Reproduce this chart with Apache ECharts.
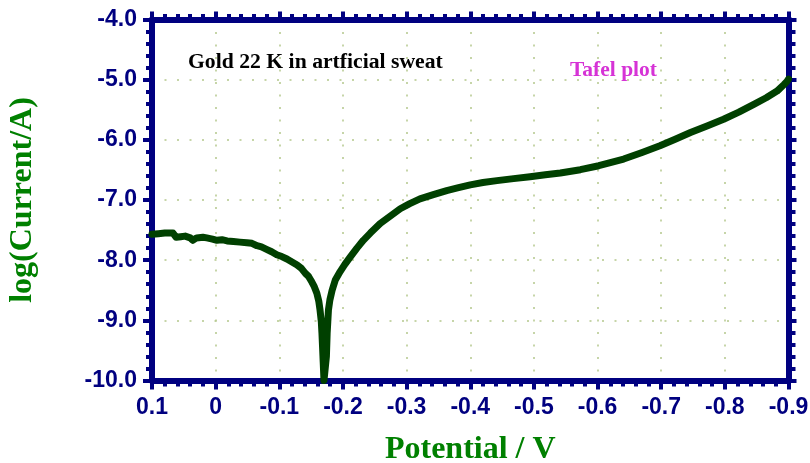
<!DOCTYPE html>
<html>
<head>
<meta charset="utf-8">
<script src="https://cdn.jsdelivr.net/npm/echarts@6/dist/echarts.min.js"></script>
<style>
html,body{margin:0;padding:0;background:#fff;}
#chart{width:810px;height:463px;}
</style>
</head>
<body>
<div id="chart"></div>
<script>
// Potential (V) and log(Current/A)
var potential = [
  0.100, 0.090, 0.080, 0.067, 0.062, 0.055, 0.048, 0.040, 0.036, 0.030,
  0.020, 0.014, 0.005, -0.002, -0.010, -0.018, -0.028, -0.038, -0.049, -0.057,
  -0.065, -0.072, -0.080, -0.088, -0.096, -0.104, -0.112, -0.120, -0.128, -0.135,
  -0.141, -0.146, -0.151, -0.155, -0.159, -0.162, -0.164, -0.166, -0.167, -0.1680,
  -0.1690, -0.1702,
  -0.1722, -0.1740, -0.1752, -0.1772, -0.1795, -0.1830, -0.188, -0.1956, -0.203, -0.2113,
  -0.222, -0.232, -0.243, -0.2585, -0.274, -0.290, -0.305, -0.321, -0.342, -0.363,
  -0.380, -0.400, -0.420, -0.442, -0.468, -0.494, -0.518, -0.5415, -0.573, -0.602,
  -0.620, -0.641, -0.670, -0.698, -0.722, -0.746, -0.772, -0.798, -0.822, -0.8455,
  -0.865, -0.882, -0.893, -0.898, -0.900
];
var logCurrent = [
  -7.57, -7.56, -7.55, -7.55, -7.62, -7.61, -7.60, -7.63, -7.67, -7.63,
  -7.62, -7.63, -7.65, -7.67, -7.66, -7.68, -7.69, -7.70, -7.71, -7.72,
  -7.76, -7.78, -7.82, -7.86, -7.91, -7.94, -7.98, -8.03, -8.08, -8.14,
  -8.22, -8.27, -8.36, -8.44, -8.55, -8.68, -8.83, -9.02, -9.21, -9.45,
  -9.70, -10.0,
  -10.0, -9.60, -9.21, -8.83, -8.66, -8.50, -8.33, -8.19, -8.07, -7.95,
  -7.80, -7.67, -7.55, -7.39, -7.27, -7.145, -7.06, -6.98, -6.91, -6.843,
  -6.80, -6.749, -6.71, -6.678, -6.645, -6.612, -6.58, -6.550, -6.496, -6.430,
  -6.38, -6.319, -6.21, -6.099, -5.99, -5.879, -5.77, -5.658, -5.54, -5.41,
  -5.30, -5.19, -5.08, -5.025, -4.99
];
var xTitle = 'Potential / V';
var yTitle = 'log(Current/A)';
var note1 = 'Gold 22 K in artficial sweat';
var note2 = 'Tafel plot';

var pts = potential.map(function (v, i) { return [v, logCurrent[i]]; });

var navy = '#000080';
var axisLine = { show: true, onZero: false, lineStyle: { color: navy, width: 6 } };
var labelFont = { color: navy, fontFamily: 'Liberation Sans, Arial, sans-serif', fontWeight: 'bold', fontSize: 23 };
var grid = { left: 152, right: 21.5, top: 19.5, bottom: 82.5, containLabel: false, outerBoundsMode: 'none' };
var splitDots = { show: true, lineStyle: { color: '#b4c88c', width: 1.5, type: [2, 10.5] } };

function xFmt(v) { return Math.abs(v) < 1e-9 ? '0' : v.toFixed(1); }

var chart = echarts.init(document.getElementById('chart'), null, { renderer: 'canvas' });
chart.setOption({
  animation: false,
  backgroundColor: '#ffffff',
  grid: grid,
  xAxis: [{
    type: 'value', min: -0.9, max: 0.1, interval: 0.1, inverse: true, position: 'bottom',
    axisLine: axisLine,
    axisTick: { show: true, inside: false, length: 9, lineStyle: { color: navy, width: 4 } },
    minorTick: { show: true, splitNumber: 5, length: 6, lineStyle: { color: navy, width: 4 } },
    axisLabel: Object.assign({ margin: 16, formatter: xFmt }, labelFont),
    splitLine: splitDots,
    name: xTitle, nameLocation: 'middle', nameGap: 53,
    nameTextStyle: { color: '#008000', fontFamily: 'Liberation Serif, Times New Roman, serif', fontWeight: 'bold', fontSize: 32 }
  }, {
    type: 'value', min: -0.9, max: 0.1, interval: 0.1, inverse: true, position: 'top',
    axisLine: axisLine,
    axisTick: { show: true, inside: false, length: 8, lineStyle: { color: navy, width: 4 } },
    minorTick: { show: true, splitNumber: 5, length: 5.5, lineStyle: { color: navy, width: 4 } },
    axisLabel: { show: false }, splitLine: { show: false }
  }],
  yAxis: [{
    type: 'value', min: -10, max: -4, interval: 1, position: 'left',
    axisLine: axisLine,
    axisTick: { show: true, inside: false, length: 9, lineStyle: { color: navy, width: 4 } },
    minorTick: { show: true, splitNumber: 5, length: 6, lineStyle: { color: navy, width: 4 } },
    axisLabel: Object.assign({ margin: 15, formatter: function (v) { return v.toFixed(1); } }, labelFont),
    splitLine: splitDots,
    name: yTitle, nameLocation: 'middle', nameGap: 113,
    nameTextStyle: { color: '#008000', fontFamily: 'Liberation Serif, Times New Roman, serif', fontWeight: 'bold', fontSize: 32 }
  }, {
    type: 'value', min: -10, max: -4, interval: 1, position: 'right',
    axisLine: axisLine,
    axisTick: { show: true, inside: false, length: 8, lineStyle: { color: navy, width: 4 } },
    minorTick: { show: true, splitNumber: 5, length: 7, lineStyle: { color: navy, width: 4 } },
    axisLabel: { show: false }, splitLine: { show: false }
  }],
  graphic: [
    { type: 'text', left: 188, top: 51, z: 100,
      style: { text: note1, fill: '#000000', font: 'bold 21.7px "Liberation Serif", "Times New Roman", serif' } },
    { type: 'text', left: 570, top: 59, z: 100,
      style: { text: note2, fill: '#d633d6', font: 'bold 21.5px "Liberation Serif", "Times New Roman", serif' } }
  ],
  series: [{
    type: 'line', xAxisIndex: 0, yAxisIndex: 0, data: pts,
    showSymbol: false, symbol: 'none', smooth: false, clip: true,
    lineStyle: { color: '#004000', width: 7, cap: 'round', join: 'round' },
    z: 3
  }]
});
</script>
</body>
</html>
